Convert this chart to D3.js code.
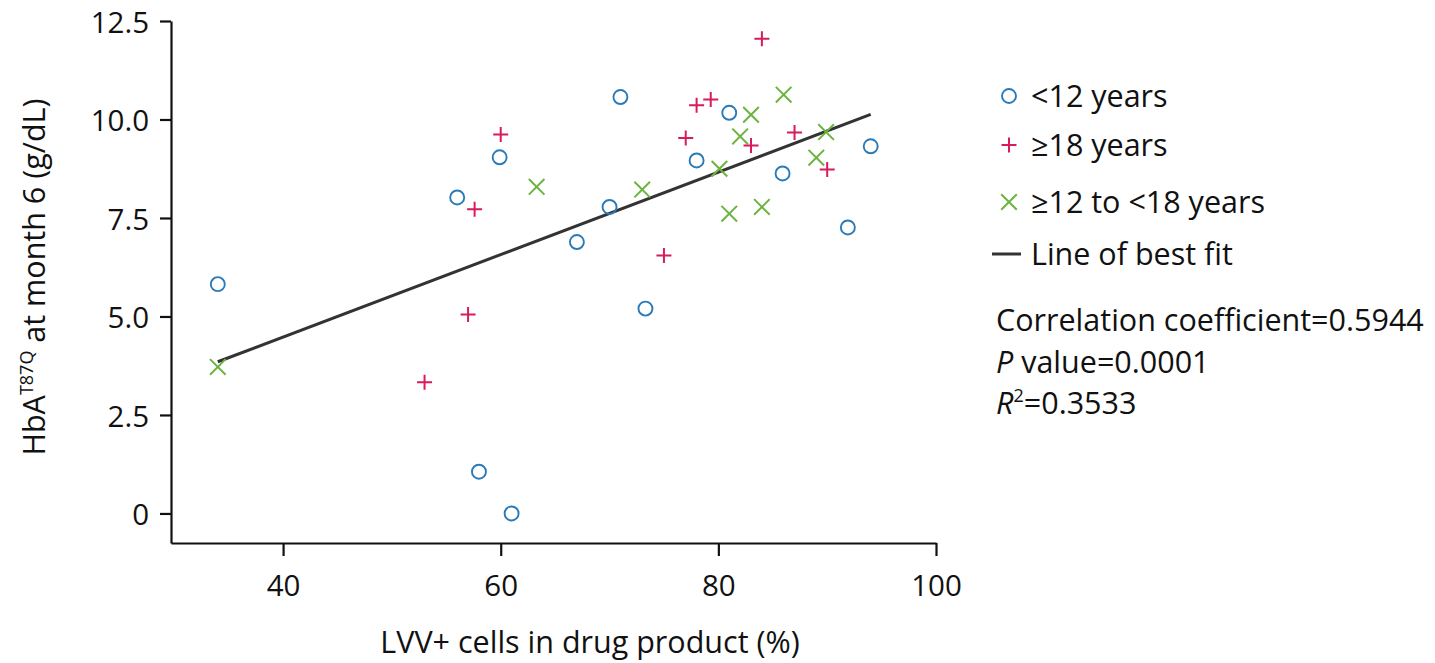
<!DOCTYPE html>
<html lang="en">
<head>
<meta charset="UTF-8">
<title>HbA T87Q vs LVV+ cells</title>
<script src="https://d3js.org/d3.v7.min.js"></script>
<style>
  body { margin: 0; background: #fff; }
  svg { display: block; font-family: "Open Sans", sans-serif; }
</style>
</head>
<body>
<svg width="1435" height="663"></svg>
<script>
// <12 years (circles)
const under12 = [
  [34.0, 5.82], [56.0, 8.02], [59.9, 9.04], [71.0, 10.57], [81.0, 10.17],
  [78.0, 8.96], [70.0, 7.78], [67.0, 6.89], [73.3, 5.20], [85.9, 8.63],
  [94.0, 9.32], [91.9, 7.26], [58.0, 1.06], [61.0, 0.0]
];
// >=18 years (plus)
const adults = [
  [84.0, 12.05], [78.0, 10.36], [79.3, 10.51], [60.0, 9.62], [77.0, 9.53],
  [83.0, 9.34], [87.0, 9.67], [90.0, 8.73], [57.6, 7.72], [75.0, 6.55],
  [57.0, 5.05], [53.0, 3.33]
];
// >=12 to <18 years (cross)
const teens = [
  [63.3, 8.29], [73.0, 8.22], [80.1, 8.75], [82.0, 9.57], [83.0, 10.12],
  [86.0, 10.63], [89.9, 9.68], [89.0, 9.03], [81.0, 7.61], [84.0, 7.78],
  [34.0, 3.72]
];
// line of best fit, end points
const fitLine = [[34.0, 3.85], [94.0, 10.13]];

const xTicks = [40, 60, 80, 100];
const yTicks = [0, 2.5, 5, 7.5, 10, 12.5];
const legendItems = ["<12 years", "\u226518 years", "\u226512 to <18 years", "Line of best fit"];

const blue = "#2a7ab8", red = "#d81b5b", green = "#6db33f";
const FONT = "'Open Sans', sans-serif", FS = 30.5;

const svg = d3.select("svg");
const x = d3.scaleLinear().domain([29.7, 100]).range([171, 936]);
const y = d3.scaleLinear().domain([-0.75, 12.5]).range([543, 21]);

// axes
const xAxis = svg.append("g").attr("transform", "translate(0,543)")
  .call(d3.axisBottom(x).tickValues(xTicks).tickSize(13).tickSizeOuter(0).tickPadding(10));
const yAxis = svg.append("g").attr("transform", "translate(171,0)")
  .call(d3.axisLeft(y).tickValues(yTicks).tickSize(11).tickSizeOuter(0).tickPadding(11)
    .tickFormat(d => d === 0 ? "0" : d3.format(".1f")(d)));
svg.selectAll(".domain, .tick line").attr("stroke", "#111").attr("stroke-width", 2.2);
svg.selectAll(".domain").attr("fill", "none");
svg.selectAll(".tick text").attr("font-family", FONT).attr("font-size", 29.5).attr("fill", "#111");
yAxis.selectAll(".tick text").attr("dy", "0.38em");
xAxis.selectAll(".tick text").attr("dy", "1.0em");

// axis titles
svg.append("text").attr("x", 590).attr("y", 653).attr("text-anchor", "middle")
  .attr("font-size", FS).attr("fill", "#111").text("LVV+ cells in drug product (%)");

const yt = svg.append("text").attr("transform", "translate(45,277) rotate(-90)")
  .attr("text-anchor", "middle").attr("font-size", FS).attr("fill", "#111");
yt.append("tspan").text("HbA");
yt.append("tspan").attr("dy", -12).attr("font-size", 18).text("T87Q");
yt.append("tspan").attr("dy", 12).text(" at month 6 (g/dL)");

// fit line
svg.append("line")
  .attr("x1", x(fitLine[0][0])).attr("y1", y(fitLine[0][1]))
  .attr("x2", x(fitLine[1][0])).attr("y2", y(fitLine[1][1]))
  .attr("stroke", "#333").attr("stroke-width", 3);

// markers
function drawCircle(g, cx, cy) {
  g.append("circle").attr("cx", cx).attr("cy", cy).attr("r", 7)
    .attr("fill", "none").attr("stroke", blue).attr("stroke-width", 1.9);
}
function drawPlus(g, cx, cy) {
  g.append("path").attr("d", `M${cx - 7.5},${cy}H${cx + 7.5}M${cx},${cy - 7.5}V${cy + 7.5}`)
    .attr("stroke", red).attr("stroke-width", 2);
}
function drawCross(g, cx, cy) {
  const s = 7.8;
  g.append("path").attr("d", `M${cx - s},${cy - s}L${cx + s},${cy + s}M${cx - s},${cy + s}L${cx + s},${cy - s}`)
    .attr("stroke", green).attr("stroke-width", 2);
}

const pts = svg.append("g");
teens.forEach(d => drawCross(pts, x(d[0]), y(d[1])));
adults.forEach(d => drawPlus(pts, x(d[0]), y(d[1])));
under12.forEach(d => drawCircle(pts, x(d[0]), y(d[1])));

// legend
const lg = svg.append("g");
const legY = [96, 145, 202, 254];
drawCircle(lg, 1009, legY[0]);
drawPlus(lg, 1009, legY[1]);
drawCross(lg, 1009, legY[2]);
lg.append("line").attr("x1", 992).attr("x2", 1021).attr("y1", legY[3]).attr("y2", legY[3])
  .attr("stroke", "#333").attr("stroke-width", 3);
legendItems.forEach((t, i) => {
  lg.append("text").attr("x", 1031).attr("y", legY[i]).attr("dy", "0.36em")
    .attr("font-size", FS).attr("fill", "#111").text(t);
});

// stats
const st = svg.append("g").attr("font-size", FS).attr("fill", "#111");
st.append("text").attr("x", 996).attr("y", 331).text("Correlation coefficient=0.5944");
const p = st.append("text").attr("x", 996).attr("y", 373);
p.append("tspan").attr("font-style", "italic").text("P");
p.append("tspan").text(" value=0.0001");
const r = st.append("text").attr("x", 996).attr("y", 414);
r.append("tspan").attr("font-style", "italic").text("R");
r.append("tspan").attr("dy", -12).attr("font-size", 18).text("2");
r.append("tspan").attr("dy", 12).text("=0.3533");
</script>
</body>
</html>
